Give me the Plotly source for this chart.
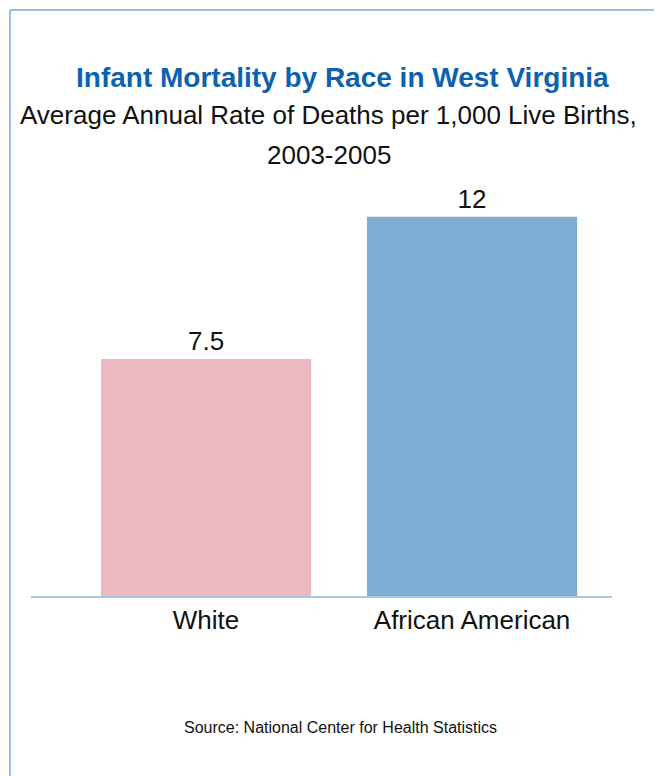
import plotly.graph_objects as go

categories = ["White", "African American"]
values = [7.5, 12]
value_labels = ["7.5", "12"]
bar_colors = ["#ecb8c2", "#7eadd4"]

title_text = "Infant Mortality by Race in West Virginia"
subtitle_line1 = "Average Annual Rate of Deaths per 1,000 Live Births,"
subtitle_line2 = "2003-2005"
source_text = "Source: National Center for Health Statistics"

W, H = 662, 776
OFF = 8  # page body margin offset
L, R, T, B = 31 - OFF, 662 - (612 - OFF), 180 - OFF, 776 - (596 - OFF)
pw, ph = W - L - R, H - T - B

def px_x(px):
    return (px - OFF - L) / pw

def px_y(py):
    return (H - B - (py - OFF)) / ph

fig = go.Figure()
fig.add_trace(go.Bar(
    x=[0, 1], y=values, width=0.79,
    marker=dict(color=bar_colors, line=dict(width=0)),
    text=value_labels, textposition="outside",
    textfont=dict(family="Liberation Sans, Arial", size=26, color="#111111"),
    cliponaxis=False,
))

fig.update_layout(
    width=W, height=H,
    margin=dict(l=L, r=R, t=T, b=B),
    paper_bgcolor="white", plot_bgcolor="white",
    showlegend=False,
    xaxis=dict(
        range=[-0.658, 1.526], tickvals=[0, 1], ticktext=categories,
        showgrid=False, zeroline=False, showline=True,
        linecolor="#a9c6e3", linewidth=2, ticks="",
        tickfont=dict(family="Liberation Sans, Arial", size=26, color="#111111"),
    ),
    yaxis=dict(range=[0, 13.16], visible=False, showgrid=False, zeroline=False),
    shapes=[
        dict(type="line", xref="paper", yref="paper",
             x0=px_x(10), x1=px_x(680), y0=px_y(10), y1=px_y(10),
             line=dict(color="#9dbfe0", width=2)),
        dict(type="line", xref="paper", yref="paper",
             x0=px_x(10), x1=px_x(10), y0=px_y(10), y1=px_y(800),
             line=dict(color="#9dbfe0", width=2)),
    ],
    annotations=[
        dict(text="<b>" + title_text + "</b>", xref="paper", yref="paper",
             x=px_x(342), y=px_y(77), showarrow=False, xanchor="center", yanchor="middle",
             font=dict(family="Liberation Sans, Arial", size=28, color="#0b62ad")),
        dict(text=subtitle_line1, xref="paper", yref="paper",
             x=px_x(328), y=px_y(115), showarrow=False, xanchor="center", yanchor="middle",
             font=dict(family="Liberation Sans, Arial", size=26, color="#111111")),
        dict(text=subtitle_line2, xref="paper", yref="paper",
             x=px_x(329), y=px_y(155), showarrow=False, xanchor="center", yanchor="middle",
             font=dict(family="Liberation Sans, Arial", size=26, color="#111111")),
        dict(text=source_text, xref="paper", yref="paper",
             x=px_x(340), y=px_y(727), showarrow=False, xanchor="center", yanchor="middle",
             font=dict(family="Liberation Sans, Arial", size=16, color="#111111")),
    ],
)

fig.write_html("out.html")
